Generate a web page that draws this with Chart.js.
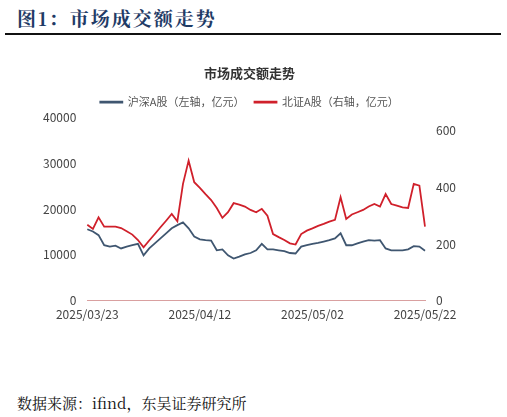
<!DOCTYPE html>
<html lang="zh">
<head>
<meta charset="UTF-8">
<script src="https://cdn.jsdelivr.net/npm/chart.js"></script>
<style>
  body { margin: 0; width: 507px; height: 417px; background: #fff; position: relative; overflow: hidden; }
  #hdr { position: absolute; left: 17px; top: 4px; font: bold 19px "Noto Serif CJK SC", "Noto Sans CJK SC", serif; color: #1f3b66; letter-spacing: 2px; }
  #rule { position: absolute; left: 5px; top: 33px; width: 496px; height: 2px; background: #111; }
  #src { position: absolute; left: 17px; top: 392px; font: 15px "Noto Serif CJK SC", "Noto Sans CJK SC", serif; color: #111; }
  #box { position: absolute; left: 0; top: 55px; width: 507px; height: 270px; }
</style>
</head>
<body>
<div id="hdr">图1：市场成交额走势</div>
<div id="rule"></div>
<div id="box"><canvas id="c"></canvas></div>
<div id="src">数据来源：ifind，东吴证券研究所</div>
<script>
  // 日期 2025/03/23 - 2025/05/22
  const dates = [];
  const start = new Date(2025, 2, 23);
  for (let i = 0; i <= 60; i++) {
    const d = new Date(start.getTime() + i * 86400000);
    dates.push(d.getFullYear() + '/' + String(d.getMonth() + 1).padStart(2, '0') + '/' + String(d.getDate()).padStart(2, '0'));
  }

  // 沪深A股（左轴，亿元）
  const hsA = [15600, 15100, 14300, 12100, 11800, 12000, 11400, 11800, 12100, 12400,
    9900, 11400, 12500, 13600, 14700, 15800, 16500, 17100, 15800, 14000,
    13400, 13200, 13100, 11000, 11200, 9900, 9200, 9600, 10100, 10400,
    11000, 12400, 11200, 11200, 11000, 10800, 10400, 10300, 11800, 12100,
    12400, 12600, 12900, 13200, 13600, 14700, 12100, 12100, 12500, 12900,
    13200, 13100, 13200, 11400, 11000, 11000, 11000, 11200, 11900, 11800, 10900];

  // 北证A股（右轴，亿元）
  const bzA = [268, 253, 294, 261, 261, 261, 256, 245, 233, 214,
    188, 212, 235, 259, 282, 306, 280, 412, 494, 418,
    398, 376, 355, 327, 292, 312, 344, 339, 332, 320,
    312, 324, 300, 235, 224, 214, 202, 198, 235, 247,
    255, 264, 271, 279, 285, 365, 288, 304, 312, 320,
    332, 341, 332, 376, 341, 335, 329, 327, 412, 406, 261];

  const leftTicks = [0, 10000, 20000, 30000, 40000];
  const rightTicks = [0, 200, 400, 600];

  const tickFont = { family: 'Noto Sans CJK SC', size: 12 };

  new Chart(document.getElementById('c'), {
    type: 'line',
    data: {
      labels: dates,
      datasets: [
        { label: '沪深A股（左轴，亿元）', data: hsA, borderColor: '#3f5670', backgroundColor: '#2e75b6', borderWidth: 1.8, pointRadius: 0, yAxisID: 'y', tension: 0 },
        { label: '北证A股（右轴，亿元）', data: bzA, borderColor: '#d0202b', backgroundColor: '#d0202b', borderWidth: 1.8, pointRadius: 0, yAxisID: 'y1', tension: 0 }
      ]
    },
    options: {
      responsive: true,
      maintainAspectRatio: false,
      animation: false,
      layout: { padding: { left: 40, right: 48, top: 0, bottom: 0 } },
      plugins: {
        title: { display: true, text: '市场成交额走势', color: '#333', font: { family: 'Noto Sans CJK SC', size: 13, weight: 'bold' }, padding: { top: 10, bottom: 6 } },
        legend: { labels: { boxWidth: 22, boxHeight: 1, color: '#555', font: { family: 'Noto Sans CJK SC', size: 11 } } },
        tooltip: { enabled: false }
      },
      scales: {
        x: {
          grid: { display: false, drawTicks: true, tickLength: 4, tickColor: '#d9a0a0' },
          border: { color: '#d9a0a0' },
          ticks: {
            autoSkip: false, maxRotation: 0, color: '#444', font: tickFont,
            callback: function (v, i) { return i % 20 === 0 ? dates[i] : ''; }
          }
        },
        y: {
          position: 'left', min: 0, max: 40000,
          grid: { display: false }, border: { display: false },
          afterBuildTicks: a => { a.ticks = leftTicks.map(v => ({ value: v })); },
          ticks: { color: '#444', font: tickFont, callback: v => String(v) }
        },
        y1: {
          position: 'right', min: 0, max: 646,
          grid: { display: false }, border: { display: false },
          afterBuildTicks: a => { a.ticks = rightTicks.map(v => ({ value: v })); },
          ticks: { color: '#444', font: tickFont, callback: v => String(v) }
        }
      }
    }
  });
</script>
</body>
</html>
